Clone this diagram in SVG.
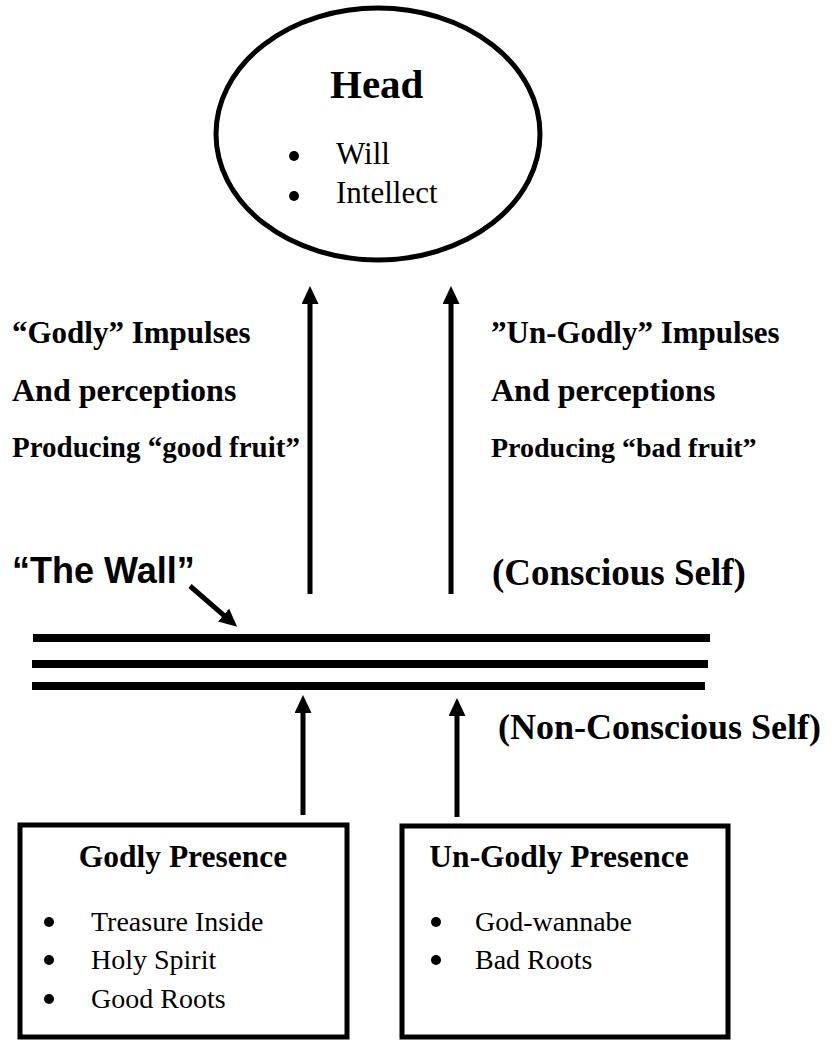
<svg xmlns="http://www.w3.org/2000/svg" width="836" height="1040" viewBox="0 0 836 1040">
<style>
  .serif { font-family: "Liberation Serif", "Times New Roman", serif; fill: #000; }
  .b { font-weight: bold; }
  .lbl { font-size: 31px; }
  .sub { font-size: 28px; }
  .self { font-size: 37px; }
  .item { font-size: 31.5px; }
  .bx { fill: #fff; stroke: #000; stroke-width: 5; }
  .conn { stroke: #000; stroke-width: 5; fill: none; marker-end: url(#ah); }
  .wall { stroke: #000; stroke-width: 8; }
  .dot { fill: #000; }
</style>
<defs>
  <marker id="ah" viewBox="0 0 18 17" refX="8" refY="8.5" markerWidth="18" markerHeight="17" markerUnits="userSpaceOnUse" orient="auto">
    <path d="M0,0 L18,8.5 L0,17 z" fill="#000"/>
  </marker>
</defs>
<rect width="836" height="1040" fill="#fff"/>

<g id="head">
  <ellipse cx="378" cy="134" rx="162" ry="126" fill="#fff" stroke="#000" stroke-width="5"/>
  <text class="serif b" x="330" y="98" font-size="41">Head</text>
  <circle class="dot" cx="294" cy="156" r="5"/>
  <text class="serif" x="336" y="164" font-size="31">Will</text>
  <circle class="dot" cx="294" cy="196" r="5"/>
  <text class="serif" x="336" y="203" font-size="31">Intellect</text>
</g>

<g id="godly-impulses">
  <text class="serif b lbl" x="12" y="343">“Godly” Impulses</text>
  <text class="serif b" x="12" y="401" font-size="32">And perceptions</text>
  <text class="serif b" x="12" y="457" font-size="29">Producing “good fruit”</text>
</g>

<g id="ungodly-impulses">
  <text class="serif b lbl" x="491" y="343">”Un-Godly” Impulses</text>
  <text class="serif b" x="491" y="401" font-size="32">And perceptions</text>
  <text class="serif b sub" x="491" y="457">Producing “bad fruit”</text>
</g>

<g id="wall-label">
  <text x="12" y="583" font-family="Liberation Sans, Arial, sans-serif" font-weight="bold" font-size="36">“The Wall”</text>
</g>

<g id="conscious">
  <text class="serif b self" x="492" y="585">(Conscious Self)</text>
</g>

<g id="wall">
  <line class="wall" x1="33" y1="638" x2="710" y2="638"/>
  <line class="wall" x1="32" y1="664" x2="708" y2="664"/>
  <line class="wall" x1="32" y1="686" x2="705" y2="686"/>
</g>

<g id="nonconscious">
  <text class="serif b" x="498" y="739" font-size="36">(Non-Conscious Self)</text>
</g>

<g id="godly-presence">
  <rect class="bx" x="20" y="825" width="327" height="212"/>
  <text class="serif b item" x="183" y="867" text-anchor="middle">Godly Presence</text>
  <circle class="dot" cx="49" cy="922" r="5"/>
  <text class="serif sub" x="91" y="931">Treasure Inside</text>
  <circle class="dot" cx="49" cy="960" r="5"/>
  <text class="serif sub" x="91" y="969">Holy Spirit</text>
  <circle class="dot" cx="49" cy="999" r="5"/>
  <text class="serif sub" x="91" y="1008">Good Roots</text>
</g>

<g id="ungodly-presence">
  <rect class="bx" x="402" y="826" width="326" height="211"/>
  <text class="serif b item" x="559" y="867" text-anchor="middle">Un-Godly Presence</text>
  <circle class="dot" cx="436" cy="922" r="5"/>
  <text class="serif sub" x="475" y="931">God-wannabe</text>
  <circle class="dot" cx="436" cy="960" r="5"/>
  <text class="serif sub" x="475" y="969">Bad Roots</text>
</g>

<g id="connectors">
  <line class="conn" x1="310" y1="594" x2="310" y2="296"/>
  <line class="conn" x1="451" y1="594" x2="451" y2="296"/>
  <line class="conn" x1="303" y1="815" x2="303" y2="705"/>
  <line class="conn" x1="457" y1="817" x2="457" y2="708"/>
  <line class="conn" x1="190" y1="586" x2="229.6" y2="620.3"/>
</g>
</svg>
